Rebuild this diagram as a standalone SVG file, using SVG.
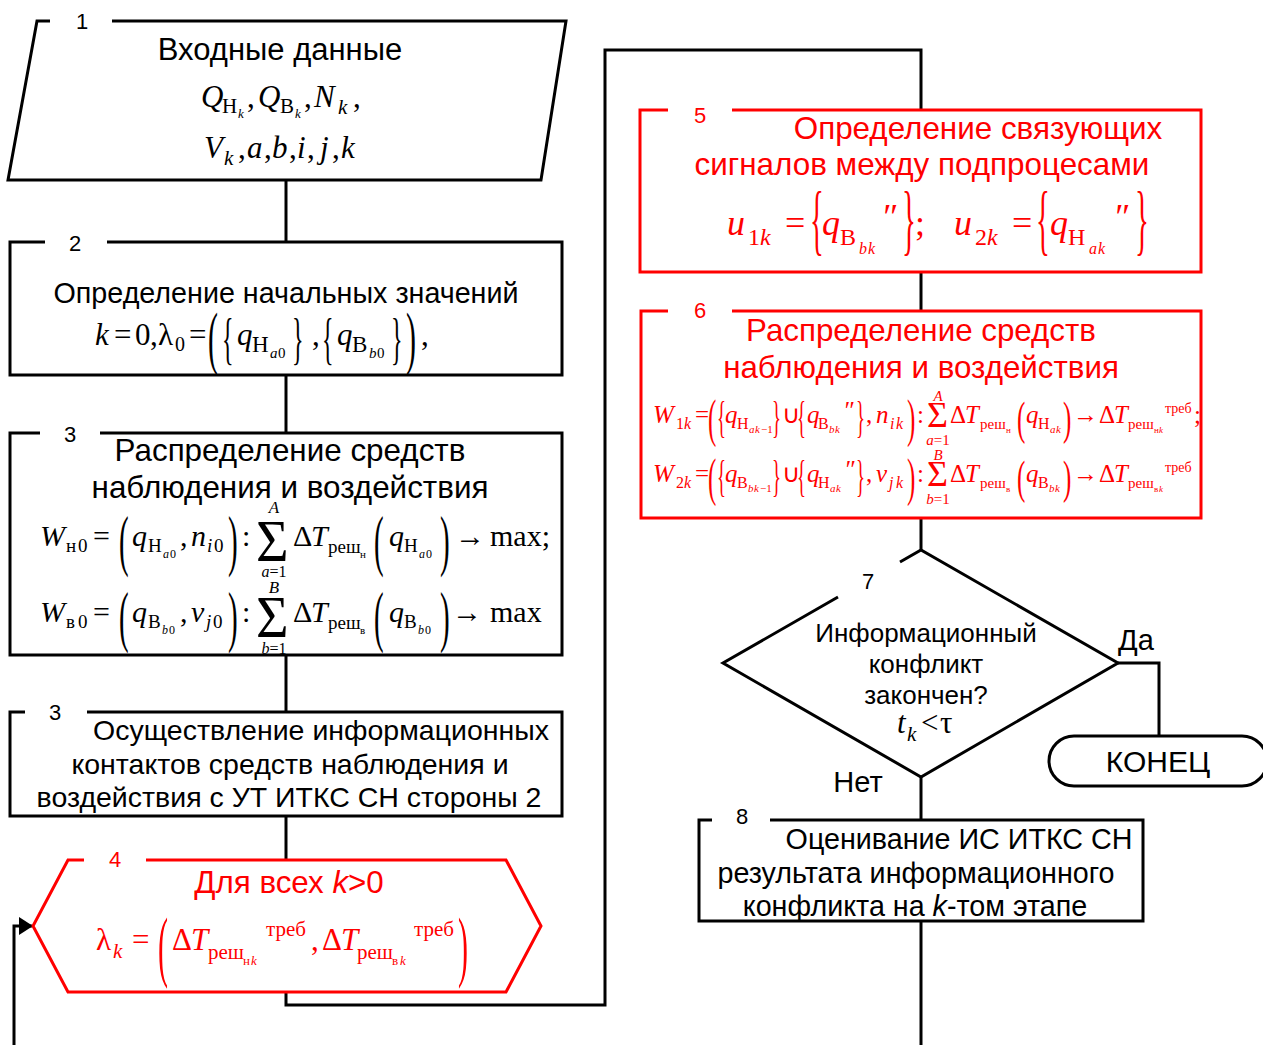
<svg xmlns="http://www.w3.org/2000/svg" width="1263" height="1045" viewBox="0 0 1263 1045">
<defs>
<style>
.ln{fill:none;stroke:#000;stroke-width:3}
.rl{fill:none;stroke:#f00;stroke-width:3}
.sa{font-family:"Liberation Sans",Arial,sans-serif}
.f{font-family:"Liberation Serif","Times New Roman",serif}
.i{font-style:italic}
.r{fill:#f00}
.c{text-anchor:middle}
</style>
<marker id="ah" markerUnits="userSpaceOnUse" markerWidth="14" markerHeight="18" refX="13" refY="9" orient="auto"><path d="M0,0 L14,9 L0,18 z" fill="#000"/></marker>
</defs>
<rect width="1263" height="1045" fill="#fff"/>

<g id="connectors" class="ln">
<path d="M286,180 V242"/>
<path d="M286,375 V433"/>
<path d="M286,655 V712"/>
<path d="M286,816 V860"/>
<path d="M286,992 V1005 H605 V50 H921 V110"/>
<path d="M921,272 V311"/>
<path d="M921,518 V550"/>
<path d="M1118,663 H1159 V736"/>
<path d="M921,777 V820"/>
<path d="M921,921 V1045"/>
<path d="M14,1045 V926 H32" marker-end="url(#ah)"/>
</g>

<g id="node1">
<path class="ln" d="M50,21 H37 L8,180 H541 L566,21 H112"/>
<text class="sa c" x="82" y="29" font-size="22">1</text>
<text class="sa c" x="280" y="60" font-size="31">Входные данные</text>
<text class="f" font-size="31">
<tspan x="201" y="107" class="i">Q</tspan><tspan x="222" y="113" font-size="21">Н</tspan><tspan x="238" y="118" font-size="13" class="i">k</tspan><tspan x="247" y="107">,</tspan>
<tspan x="258" y="107" class="i">Q</tspan><tspan x="280" y="113" font-size="21">В</tspan><tspan x="295" y="118" font-size="13" class="i">k</tspan><tspan x="304" y="107">,</tspan>
<tspan x="314" y="107" class="i">N</tspan><tspan x="338" y="114" font-size="21" class="i">k</tspan><tspan x="353" y="107">,</tspan>
</text>
<text class="f" font-size="31">
<tspan x="204" y="158" class="i">V</tspan><tspan x="224" y="165" font-size="21" class="i">k</tspan>
<tspan x="238" y="158">,</tspan><tspan x="247" y="158" class="i">a</tspan>
<tspan x="264" y="158">,</tspan><tspan x="272" y="158" class="i">b</tspan>
<tspan x="289" y="158">,</tspan><tspan x="297" y="158" class="i">i</tspan>
<tspan x="307" y="158">,</tspan><tspan x="320" y="158" class="i">j</tspan>
<tspan x="332" y="158">,</tspan><tspan x="341" y="158" class="i">k</tspan>
</text>
</g>

<g id="node2">
<path class="ln" d="M45,242 H10 V375 H562 V242 H107"/>
<text class="sa c" x="75" y="251" font-size="22">2</text>
<text class="sa c" x="286" y="303" font-size="28.7">Определение начальных значений</text>
<text class="f" font-size="31">
<tspan x="95" y="345" class="i">k</tspan><tspan x="114" y="345">=</tspan><tspan x="135" y="345">0</tspan><tspan x="150" y="345">,</tspan>
<tspan x="158" y="345">λ</tspan><tspan x="175" y="351" font-size="20">0</tspan>
<tspan x="189" y="345">=</tspan>
<tspan x="237" y="345" class="i">q</tspan><tspan x="252" y="352" font-size="23">Н</tspan><tspan x="270" y="358" font-size="15" class="i">a</tspan><tspan x="278" y="358" font-size="15">0</tspan>
<tspan x="312" y="345">,</tspan>
<tspan x="337" y="345" class="i">q</tspan><tspan x="352" y="352" font-size="23">В</tspan><tspan x="369" y="358" font-size="15" class="i">b</tspan><tspan x="377" y="358" font-size="15">0</tspan>
<tspan x="421" y="345">,</tspan>
</text>
<text class="f" font-size="30" transform="translate(208,361) scale(1,2.3)">(</text>
<text class="f" font-size="30" transform="translate(222,358) scale(0.8,1.9)">{</text>
<text class="f" font-size="30" transform="translate(292,358) scale(0.8,1.9)">}</text>
<text class="f" font-size="30" transform="translate(322,358) scale(0.8,1.9)">{</text>
<text class="f" font-size="30" transform="translate(391,358) scale(0.8,1.9)">}</text>
<text class="f" font-size="30" transform="translate(406,361) scale(1,2.3)">)</text>
</g>

<g id="node3">
<path class="ln" d="M40,433 H10 V655 H562 V433 H100"/>
<text class="sa c" x="70" y="442" font-size="22">3</text>
<text class="sa c" x="290" y="461" font-size="31.4">Распределение средств</text>
<text class="sa c" x="290" y="498" font-size="31.4">наблюдения и воздействия</text>
<text class="f" font-size="30">
<tspan x="40" y="546" class="i">W</tspan><tspan x="66" y="552" font-size="19">н</tspan><tspan x="78" y="552" font-size="19">0</tspan>
<tspan x="93" y="546">=</tspan>
<tspan x="132" y="546" class="i">q</tspan><tspan x="148" y="552" font-size="19">Н</tspan><tspan x="163" y="558" font-size="12" class="i">a</tspan><tspan x="170" y="558" font-size="12">0</tspan>
<tspan x="180" y="546">,</tspan>
<tspan x="191" y="546" class="i">n</tspan><tspan x="207" y="552" font-size="19" class="i">i</tspan><tspan x="214" y="552" font-size="19">0</tspan>
<tspan x="242" y="546">:</tspan>
<tspan x="293" y="546">Δ</tspan><tspan x="311" y="546" class="i">T</tspan><tspan x="328" y="553" font-size="19">реш</tspan><tspan x="360" y="558" font-size="11">н</tspan>
<tspan x="389" y="546" class="i">q</tspan><tspan x="404" y="552" font-size="19">Н</tspan><tspan x="419" y="558" font-size="12" class="i">a</tspan><tspan x="426" y="558" font-size="12">0</tspan>
<tspan x="455" y="546">→</tspan><tspan x="490" y="546">max;</tspan>
</text>
<text class="f c i" font-size="17" x="274" y="513">A</text>
<text class="f c" font-size="16" x="274" y="577"><tspan class="i">a</tspan>=1</text>
<text class="f" font-size="50" transform="translate(256,561) scale(1.12,1.2)">Σ</text>
<text class="f" font-size="29" transform="translate(119,563) scale(1,2.35)">(</text>
<text class="f" font-size="29" transform="translate(228,563) scale(1,2.35)">)</text>
<text class="f" font-size="29" transform="translate(374,563) scale(1,2.35)">(</text>
<text class="f" font-size="29" transform="translate(440,563) scale(1,2.35)">)</text>
<text class="f" font-size="30">
<tspan x="40" y="622" class="i">W</tspan><tspan x="66" y="628" font-size="19">в</tspan><tspan x="78" y="628" font-size="19">0</tspan>
<tspan x="93" y="622">=</tspan>
<tspan x="132" y="622" class="i">q</tspan><tspan x="148" y="628" font-size="19">В</tspan><tspan x="162" y="634" font-size="12" class="i">b</tspan><tspan x="169" y="634" font-size="12">0</tspan>
<tspan x="180" y="622">,</tspan>
<tspan x="191" y="622" class="i">v</tspan><tspan x="206" y="628" font-size="19" class="i">j</tspan><tspan x="213" y="628" font-size="19">0</tspan>
<tspan x="242" y="622">:</tspan>
<tspan x="293" y="622">Δ</tspan><tspan x="311" y="622" class="i">T</tspan><tspan x="328" y="629" font-size="19">реш</tspan><tspan x="360" y="634" font-size="11">в</tspan>
<tspan x="389" y="622" class="i">q</tspan><tspan x="404" y="628" font-size="19">В</tspan><tspan x="418" y="634" font-size="12" class="i">b</tspan><tspan x="425" y="634" font-size="12">0</tspan>
<tspan x="452" y="622">→</tspan><tspan x="490" y="622">max</tspan>
</text>
<text class="f c i" font-size="17" x="274" y="593">B</text>
<text class="f c" font-size="16" x="274" y="654"><tspan class="i">b</tspan>=1</text>
<text class="f" font-size="50" transform="translate(256,637) scale(1.12,1.2)">Σ</text>
<text class="f" font-size="29" transform="translate(119,639) scale(1,2.35)">(</text>
<text class="f" font-size="29" transform="translate(228,639) scale(1,2.35)">)</text>
<text class="f" font-size="29" transform="translate(374,639) scale(1,2.35)">(</text>
<text class="f" font-size="29" transform="translate(440,639) scale(1,2.35)">)</text>
</g>

<g id="node3b">
<path class="ln" d="M25,712 H10 V816 H562 V712 H87"/>
<text class="sa c" x="55" y="720" font-size="22">3</text>
<text class="sa c" x="321" y="740" font-size="28.5">Осуществление информационных</text>
<text class="sa c" x="290" y="774" font-size="28.5">контактов средств наблюдения и</text>
<text class="sa c" x="289" y="807" font-size="28.5">воздействия с УТ ИТКС СН стороны 2</text>
</g>

<g id="node4">
<path class="rl" d="M84,860 H68 L33,926 L68,992 H506 L541,926 L506,860 H146"/>
<text class="sa c r" x="115" y="867" font-size="22">4</text>
<text class="sa c r" x="289" y="893" font-size="31.3">Для всех <tspan class="i">k</tspan>&gt;0</text>
<text class="f r" font-size="31">
<tspan x="96" y="950">λ</tspan><tspan x="113" y="958" font-size="21" class="i">k</tspan>
<tspan x="132" y="950">=</tspan>
<tspan x="172" y="950">Δ</tspan><tspan x="191" y="950" class="i">T</tspan><tspan x="208" y="959" font-size="21">реш</tspan><tspan x="243" y="965" font-size="13">н</tspan><tspan x="251" y="965" font-size="13" class="i">k</tspan>
<tspan x="266" y="936" font-size="21">треб</tspan>
<tspan x="311" y="950">,</tspan>
<tspan x="322" y="950">Δ</tspan><tspan x="341" y="950" class="i">T</tspan><tspan x="357" y="959" font-size="21">реш</tspan><tspan x="392" y="965" font-size="13">в</tspan><tspan x="400" y="965" font-size="13" class="i">k</tspan>
<tspan x="414" y="936" font-size="21">треб</tspan>
</text>
<text class="f r" font-size="30" transform="translate(158,972) scale(1,2.6)">(</text>
<text class="f r" font-size="30" transform="translate(458,972) scale(1,2.6)">)</text>
</g>

<g id="node5">
<path class="rl" d="M668,110 H640 V272 H1201 V110 H732"/>
<text class="sa c r" x="700" y="123" font-size="22">5</text>
<text class="sa c r" x="978" y="139" font-size="31.4">Определение связующих</text>
<text class="sa c r" x="922" y="175" font-size="31.4">сигналов между подпроцесами</text>
<text class="f r" font-size="36">
<tspan x="727" y="235" class="i">u</tspan><tspan x="748" y="245" font-size="24">1</tspan><tspan x="760" y="245" font-size="24" class="i">k</tspan>
<tspan x="785" y="235">=</tspan>
<tspan x="822" y="235" class="i">q</tspan><tspan x="840" y="245" font-size="24">В</tspan><tspan x="859" y="254" font-size="16" class="i">b</tspan><tspan x="868" y="254" font-size="16" class="i">k</tspan>
<tspan x="881" y="229" class="i">″</tspan>
<tspan x="915" y="235">;</tspan>
<tspan x="954" y="235" class="i">u</tspan><tspan x="975" y="245" font-size="24">2</tspan><tspan x="987" y="245" font-size="24" class="i">k</tspan>
<tspan x="1012" y="235">=</tspan>
<tspan x="1050" y="235" class="i">q</tspan><tspan x="1068" y="245" font-size="24">Н</tspan><tspan x="1089" y="254" font-size="16" class="i">a</tspan><tspan x="1098" y="254" font-size="16" class="i">k</tspan>
<tspan x="1113" y="229" class="i">″</tspan>
</text>
<text class="f r" font-size="36" transform="translate(810,246) scale(0.8,2.15)">{</text>
<text class="f r" font-size="36" transform="translate(902,246) scale(0.8,2.15)">}</text>
<text class="f r" font-size="36" transform="translate(1036,246) scale(0.8,2.15)">{</text>
<text class="f r" font-size="36" transform="translate(1135,246) scale(0.8,2.15)">}</text>
</g>

<g id="node6">
<path class="rl" d="M668,311 H641 V518 H1201 V311 H732"/>
<text class="sa c r" x="700" y="318" font-size="22">6</text>
<text class="sa c r" x="921" y="341" font-size="31.3">Распределение средств</text>
<text class="sa c r" x="921" y="378" font-size="31.3">наблюдения и воздействия</text>
<text class="f r" font-size="25">
<tspan x="653" y="423" class="i">W</tspan><tspan x="676" y="429" font-size="16">1</tspan><tspan x="684" y="429" font-size="16" class="i">k</tspan>
<tspan x="695" y="423">=</tspan>
<tspan x="725" y="423" class="i">q</tspan><tspan x="737" y="429" font-size="16">Н</tspan><tspan x="749" y="433" font-size="11" class="i">a</tspan><tspan x="755" y="433" font-size="11" class="i">k</tspan><tspan x="761" y="433" font-size="11">−1</tspan>
<tspan x="782" y="423">∪</tspan>
<tspan x="807" y="423" class="i">q</tspan><tspan x="818" y="429" font-size="16">В</tspan><tspan x="829" y="433" font-size="11" class="i">b</tspan><tspan x="835" y="433" font-size="11" class="i">k</tspan>
<tspan x="843" y="419" class="i">″</tspan>
<tspan x="866" y="423">,</tspan>
<tspan x="876" y="423" class="i">n</tspan><tspan x="890" y="429" font-size="16" class="i">i</tspan><tspan x="896" y="429" font-size="16" class="i">k</tspan>
<tspan x="917" y="423">:</tspan>
<tspan x="950" y="423">Δ</tspan><tspan x="965" y="423" class="i">T</tspan><tspan x="980" y="429" font-size="15">реш</tspan><tspan x="1006" y="433" font-size="9">н</tspan>
<tspan x="1026" y="423" class="i">q</tspan><tspan x="1038" y="429" font-size="16">Н</tspan><tspan x="1050" y="433" font-size="11" class="i">a</tspan><tspan x="1056" y="433" font-size="11" class="i">k</tspan>
<tspan x="1073" y="423">→</tspan>
<tspan x="1099" y="423">Δ</tspan><tspan x="1114" y="423" class="i">T</tspan><tspan x="1128" y="429" font-size="15">реш</tspan><tspan x="1154" y="433" font-size="9">н</tspan><tspan x="1159" y="433" font-size="9" class="i">k</tspan>
<tspan x="1165" y="413" font-size="14">треб</tspan><tspan x="1194" y="423">;</tspan>
</text>
<text class="f c r i" font-size="15" x="938" y="401">A</text>
<text class="f c r" font-size="15" x="938" y="445"><tspan class="i">a</tspan>=1</text>
<text class="f r" font-size="36" transform="translate(927,427)">Σ</text>
<text class="f r" font-size="25" transform="translate(708,436) scale(1,2.07)">(</text>
<text class="f r" font-size="25" transform="translate(717,432) scale(0.75,1.76)">{</text>
<text class="f r" font-size="25" transform="translate(772,432) scale(0.75,1.76)">}</text>
<text class="f r" font-size="25" transform="translate(797,432) scale(0.75,1.76)">{</text>
<text class="f r" font-size="25" transform="translate(856,432) scale(0.75,1.76)">}</text>
<text class="f r" font-size="25" transform="translate(907,436) scale(1,2.07)">)</text>
<text class="f r" font-size="25" transform="translate(1017,434) scale(1,1.9)">(</text>
<text class="f r" font-size="25" transform="translate(1063,434) scale(1,1.9)">)</text>

<text class="f r" font-size="25">
<tspan x="653" y="482" class="i">W</tspan><tspan x="676" y="488" font-size="16">2</tspan><tspan x="684" y="488" font-size="16" class="i">k</tspan>
<tspan x="695" y="482">=</tspan>
<tspan x="725" y="482" class="i">q</tspan><tspan x="737" y="488" font-size="16">В</tspan><tspan x="748" y="492" font-size="11" class="i">b</tspan><tspan x="754" y="492" font-size="11" class="i">k</tspan><tspan x="760" y="492" font-size="11">−1</tspan>
<tspan x="782" y="482">∪</tspan>
<tspan x="807" y="482" class="i">q</tspan><tspan x="818" y="488" font-size="16">Н</tspan><tspan x="830" y="492" font-size="11" class="i">a</tspan><tspan x="836" y="492" font-size="11" class="i">k</tspan>
<tspan x="844" y="478" class="i">″</tspan>
<tspan x="866" y="482">,</tspan>
<tspan x="876" y="482" class="i">v</tspan><tspan x="889" y="488" font-size="16" class="i">j</tspan><tspan x="896" y="488" font-size="16" class="i">k</tspan>
<tspan x="917" y="482">:</tspan>
<tspan x="950" y="482">Δ</tspan><tspan x="965" y="482" class="i">T</tspan><tspan x="980" y="488" font-size="15">реш</tspan><tspan x="1006" y="492" font-size="9">в</tspan>
<tspan x="1026" y="482" class="i">q</tspan><tspan x="1038" y="488" font-size="16">В</tspan><tspan x="1049" y="492" font-size="11" class="i">b</tspan><tspan x="1055" y="492" font-size="11" class="i">k</tspan>
<tspan x="1073" y="482">→</tspan>
<tspan x="1099" y="482">Δ</tspan><tspan x="1114" y="482" class="i">T</tspan><tspan x="1128" y="488" font-size="15">реш</tspan><tspan x="1154" y="492" font-size="9">в</tspan><tspan x="1159" y="492" font-size="9" class="i">k</tspan>
<tspan x="1165" y="472" font-size="14">треб</tspan>
</text>
<text class="f c r i" font-size="15" x="938" y="460">B</text>
<text class="f c r" font-size="15" x="938" y="504"><tspan class="i">b</tspan>=1</text>
<text class="f r" font-size="36" transform="translate(927,486)">Σ</text>
<text class="f r" font-size="25" transform="translate(708,495) scale(1,2.07)">(</text>
<text class="f r" font-size="25" transform="translate(717,491) scale(0.75,1.76)">{</text>
<text class="f r" font-size="25" transform="translate(772,491) scale(0.75,1.76)">}</text>
<text class="f r" font-size="25" transform="translate(797,491) scale(0.75,1.76)">{</text>
<text class="f r" font-size="25" transform="translate(856,491) scale(0.75,1.76)">}</text>
<text class="f r" font-size="25" transform="translate(907,495) scale(1,2.07)">)</text>
<text class="f r" font-size="25" transform="translate(1017,493) scale(1,1.9)">(</text>
<text class="f r" font-size="25" transform="translate(1063,493) scale(1,1.9)">)</text>
</g>

<g id="node7">
<path class="ln" d="M900,562 L921,550 L1118,663 L921,777 L723,663 L838,597"/>
<text class="sa c" x="868" y="589" font-size="22">7</text>
<text class="sa c" x="926" y="642" font-size="26">Информационный</text>
<text class="sa c" x="926" y="673" font-size="26">конфликт</text>
<text class="sa c" x="926" y="704" font-size="26">закончен?</text>
<text class="f" font-size="31"><tspan x="897" y="733" class="i">t</tspan><tspan x="907" y="741" font-size="21" class="i">k</tspan><tspan x="921" y="733">&lt;</tspan><tspan x="940" y="733">τ</tspan></text>
<text class="sa c" x="1136" y="650" font-size="29">Да</text>
<text class="sa c" x="858" y="792" font-size="29">Нет</text>
</g>

<g id="end">
<rect class="ln" x="1049" y="736" width="218" height="50" rx="25"/>
<text class="sa c" x="1158" y="772" font-size="30">КОНЕЦ</text>
</g>

<g id="node8">
<path class="ln" d="M712,820 H699 V921 H1143 V820 H770"/>
<text class="sa c" x="742" y="824" font-size="22">8</text>
<text class="sa c" x="959" y="849" font-size="28.7">Оценивание ИС ИТКС СН</text>
<text class="sa c" x="916" y="883" font-size="28.7">результата информационного</text>
<text class="sa c" x="915" y="916" font-size="28.7">конфликта на <tspan class="i">k</tspan>-том этапе</text>
</g>
</svg>
